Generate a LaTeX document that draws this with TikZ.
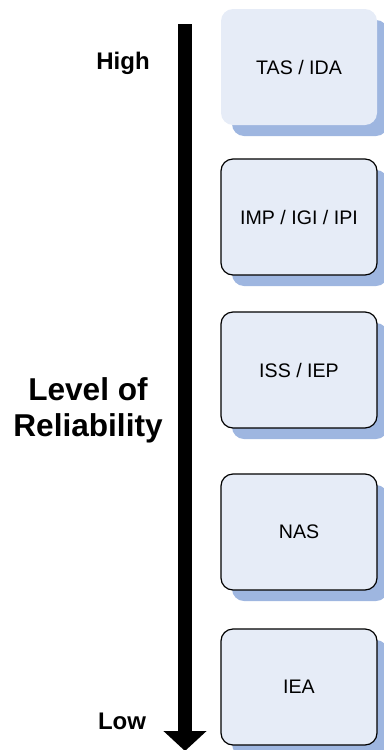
\documentclass[tikz,border=0pt]{standalone}
\usepackage{fontspec}
\setmainfont{Liberation Sans}
\usetikzlibrary{arrows.meta,shadows}

\definecolor{boxfill}{RGB}{230,236,247}
\definecolor{boxshadow}{RGB}{158,182,224}

\tikzstyle{niveau} = [rectangle, draw, fill=boxfill, text centered, rounded corners=6pt, minimum width=78pt, minimum height=58pt, line width=0.6pt, font=\fontsize{9.8}{11}\selectfont, drop shadow={shadow xshift=5.5pt, shadow yshift=-5.5pt, fill=boxshadow, opacity=1}]
\tikzstyle{repere} = [font=\bfseries\fontsize{12}{14}\selectfont, anchor=base]
\tikzstyle{titre} = [font=\bfseries\fontsize{15.8}{18}\selectfont, align=center]

\begin{document}
\begin{tikzpicture}[x=0.5pt, y=-0.5pt]

    \useasboundingbox (0,0) rectangle (384,750);

    %  axis
    \coordinate (haut) at (185,24);
    \coordinate (bas) at (185,751);
    \draw[line width=7pt, -{Triangle[width=21pt, length=10pt]}] (haut) -- (bas);

    \node[repere] (H) at (123,69) {High};
    \node[repere] (L) at (122,729) {Low};
    \node[titre] (R) at (88,410) {Level of\\Reliability};

   %-------------------------------------------------------------
    \node[niveau, draw=none] (TAS) at (299,67) {TAS / IDA};
    \node[niveau] (IMP) at (299,217) {IMP / IGI / IPI};
    \node[niveau] (ISS) at (299,370) {ISS / IEP};
    \node[niveau] (NAS) at (299,532) {NAS};
    \node[niveau] (IEA) at (299,687) {IEA};

\end{tikzpicture}
\end{document}
